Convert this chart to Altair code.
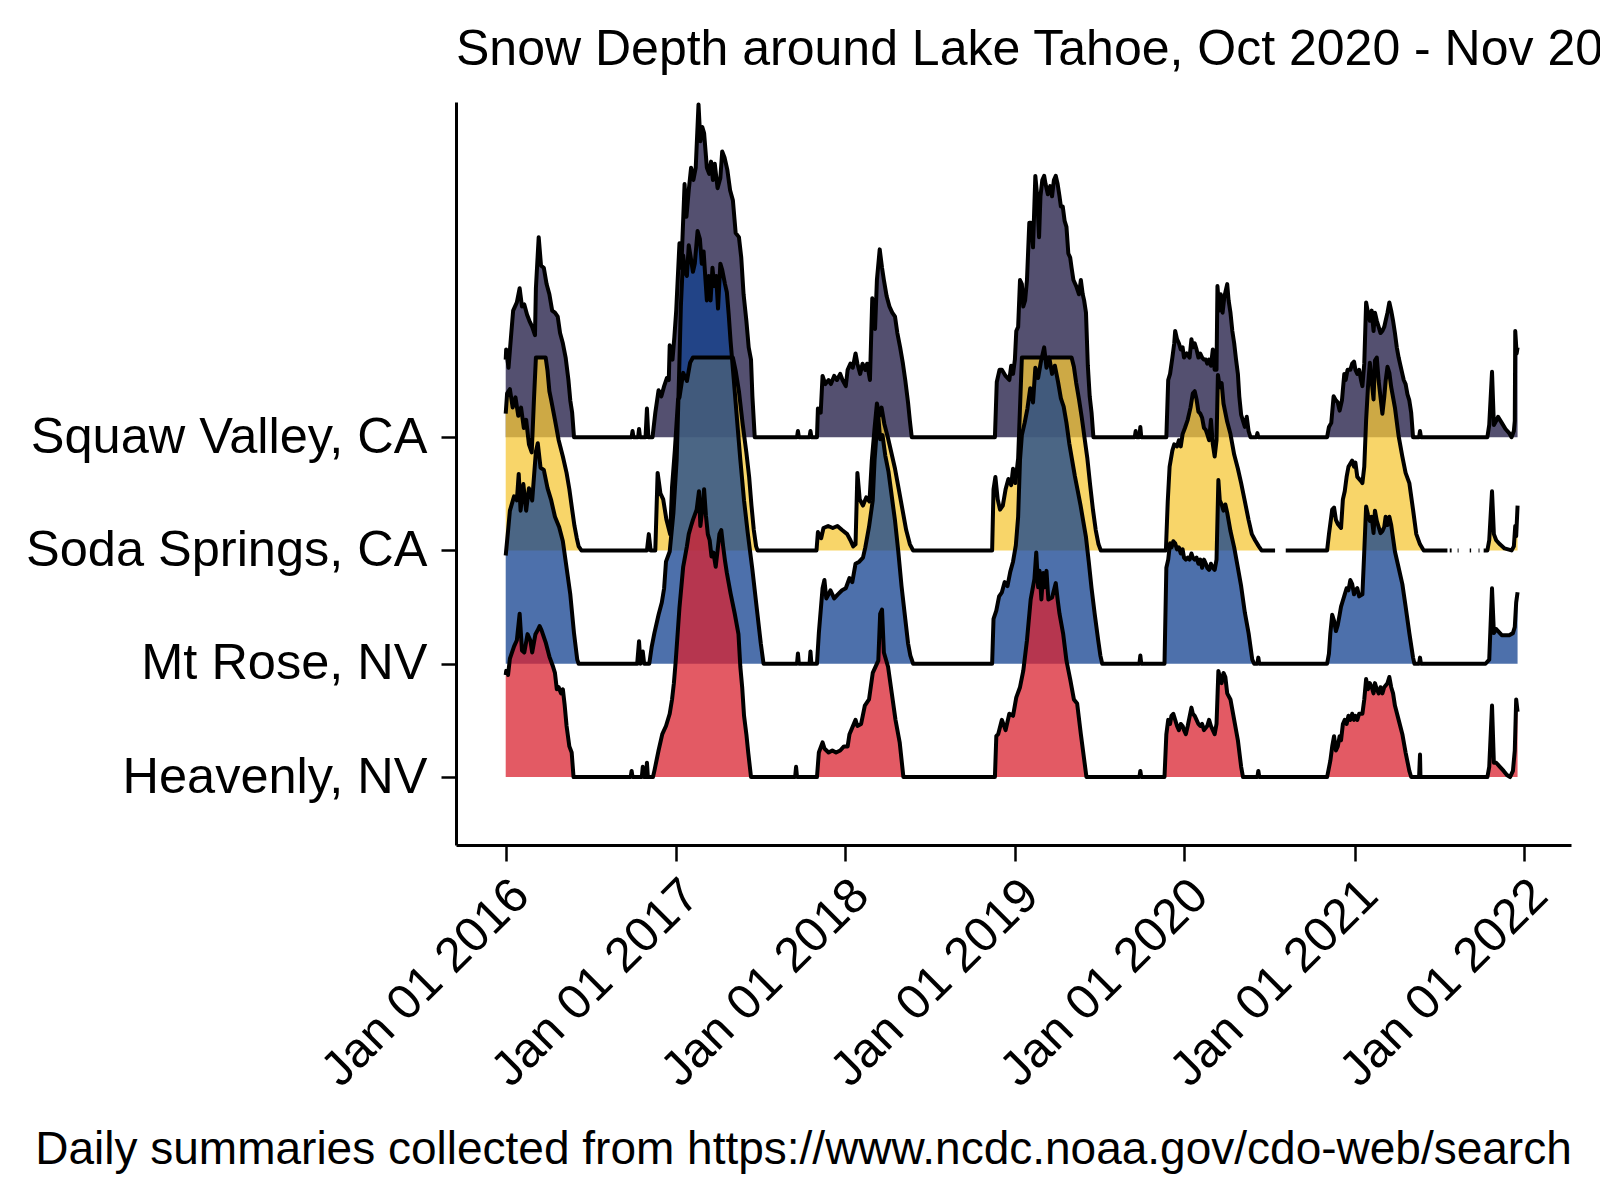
import altair as alt
import pandas as pd

FONT = "Liberation Sans"
TITLE = "Snow Depth around Lake Tahoe, Oct 2020 - Nov 2021"
FOOTER = "Daily summaries collected from https://www.ncdc.noaa.gov/cdo-web/search"

STATIONS = ["Squaw Valley, CA", "Soda Springs, CA", "Mt Rose, NV", "Heavenly, NV"]
OFFSETS = [166.5, 111.0, 55.5, 0.0]          # ridge baselines (inches)
COLORS = ["#1B1640", "#F6C737", "#12408F", "#DA2330"]
TICK_YEARS = [2016, 2017, 2018, 2019, 2020, 2021, 2022]

# snow depth (inches); None marks missing records
SQUAW = [
    ("2016-01-01", 38), ("2016-01-02", 43), ("2016-01-07", 34), ("2016-01-13", 51), ("2016-01-17", 62),
    ("2016-01-25", 66), ("2016-01-31", 73), ("2016-02-05", 64), ("2016-02-10", 65), ("2016-02-16", 60),
    ("2016-02-21", 57), ("2016-02-27", 54), ("2016-03-04", 50), ("2016-03-06", 73), ("2016-03-12", 98),
    ("2016-03-17", 84), ("2016-03-23", 83), ("2016-03-29", 75), ("2016-04-04", 70), ("2016-04-10", 62),
    ("2016-04-16", 61), ("2016-04-22", 59), ("2016-04-27", 51), ("2016-05-03", 46), ("2016-05-09", 39),
    ("2016-05-15", 28), ("2016-05-19", 18), ("2016-05-23", 12), ("2016-05-27", 0),
    ("2016-09-28", 0), ("2016-09-30", 3), ("2016-10-02", 0), ("2016-10-12", 0), ("2016-10-14", 4),
    ("2016-10-16", 0), ("2016-10-28", 0), ("2016-10-31", 14), ("2016-11-03", 0), ("2016-11-12", 0),
    ("2016-11-18", 12), ("2016-11-25", 23), ("2016-12-01", 20), ("2016-12-07", 25), ("2016-12-13", 29),
    ("2016-12-17", 28), ("2016-12-19", 45), ("2016-12-25", 38), ("2016-12-29", 49), ("2017-01-02", 62),
    ("2017-01-09", 95), ("2017-01-13", 83), ("2017-01-20", 124), ("2017-01-24", 108), ("2017-01-29", 121),
    ("2017-02-03", 132), ("2017-02-08", 126), ("2017-02-13", 132), ("2017-02-19", 163), ("2017-02-23", 145),
    ("2017-02-27", 152), ("2017-03-03", 149), ("2017-03-09", 132), ("2017-03-14", 129), ("2017-03-18", 135),
    ("2017-03-22", 126), ("2017-03-26", 134), ("2017-04-01", 122), ("2017-04-07", 127), ("2017-04-11", 140),
    ("2017-04-16", 137), ("2017-04-22", 131), ("2017-04-28", 121), ("2017-05-04", 116), ("2017-05-10", 100),
    ("2017-05-17", 98), ("2017-05-22", 88), ("2017-05-27", 70), ("2017-06-02", 57), ("2017-06-07", 44),
    ("2017-06-12", 38), ("2017-06-15", 20), ("2017-06-20", 0),
    ("2017-09-19", 0), ("2017-09-21", 3), ("2017-09-23", 0), ("2017-10-16", 0), ("2017-10-18", 3),
    ("2017-10-20", 0), ("2017-11-01", 0),
    ("2017-11-03", 14), ("2017-11-09", 12), ("2017-11-13", 30), ("2017-11-19", 26), ("2017-11-26", 28),
    ("2017-12-01", 26), ("2017-12-08", 30), ("2017-12-14", 28), ("2017-12-21", 31), ("2017-12-26", 28),
    ("2018-01-02", 25), ("2018-01-06", 33), ("2018-01-12", 36), ("2018-01-17", 34), ("2018-01-23", 41),
    ("2018-01-27", 36), ("2018-02-02", 31), ("2018-02-07", 36), ("2018-02-13", 33), ("2018-02-17", 36),
    ("2018-02-23", 28), ("2018-02-28", 68), ("2018-03-06", 53), ("2018-03-10", 77), ("2018-03-16", 92),
    ("2018-03-21", 83), ("2018-03-25", 77), ("2018-03-31", 69), ("2018-04-06", 64), ("2018-04-12", 61),
    ("2018-04-18", 59), ("2018-04-23", 51), ("2018-04-29", 44), ("2018-05-05", 36), ("2018-05-10", 28),
    ("2018-05-16", 17), ("2018-05-20", 8), ("2018-05-24", 0),
    ("2018-11-19", 0), ("2018-11-23", 27), ("2018-11-29", 33), ("2018-12-04", 33), ("2018-12-12", 30),
    ("2018-12-20", 28), ("2018-12-24", 35), ("2018-12-28", 31), ("2019-01-01", 38), ("2019-01-04", 52),
    ("2019-01-08", 54), ("2019-01-12", 77), ("2019-01-16", 75), ("2019-01-19", 64), ("2019-01-23", 67),
    ("2019-01-27", 77), ("2019-02-01", 105), ("2019-02-05", 105), ("2019-02-09", 93), ("2019-02-14", 128),
    ("2019-02-18", 118), ("2019-02-22", 98), ("2019-02-25", 118), ("2019-03-01", 126), ("2019-03-05", 128),
    ("2019-03-08", 124), ("2019-03-13", 119), ("2019-03-18", 123), ("2019-03-22", 118), ("2019-03-26", 126),
    ("2019-03-30", 128), ("2019-04-03", 124), ("2019-04-07", 118), ("2019-04-10", 113), ("2019-04-14", 113),
    ("2019-04-18", 106), ("2019-04-22", 103), ("2019-04-26", 90), ("2019-04-30", 88), ("2019-05-03", 83),
    ("2019-05-07", 77), ("2019-05-13", 74), ("2019-05-19", 70), ("2019-05-23", 77), ("2019-05-27", 70),
    ("2019-05-30", 67), ("2019-06-03", 61), ("2019-06-07", 35), ("2019-06-11", 20), ("2019-06-15", 12),
    ("2019-06-19", 0),
    ("2019-09-16", 0), ("2019-09-18", 3), ("2019-09-20", 0), ("2019-09-26", 0), ("2019-09-28", 5),
    ("2019-09-30", 0), ("2019-11-23", 0),
    ("2019-11-27", 28), ("2019-12-01", 31), ("2019-12-06", 39), ("2019-12-10", 46), ("2019-12-12", 52),
    ("2019-12-16", 48), ("2019-12-20", 46), ("2019-12-24", 43), ("2019-12-28", 44), ("2019-12-31", 39),
    ("2020-01-06", 41), ("2020-01-12", 39), ("2020-01-16", 48), ("2020-01-19", 44), ("2020-01-23", 46),
    ("2020-01-27", 43), ("2020-01-31", 39), ("2020-02-04", 41), ("2020-02-08", 39), ("2020-02-12", 38),
    ("2020-02-16", 38), ("2020-02-19", 36), ("2020-02-23", 38), ("2020-02-27", 35), ("2020-03-02", 43),
    ("2020-03-06", 33), ("2020-03-10", 33), ("2020-03-12", 74), ("2020-03-16", 62), ("2020-03-19", 70),
    ("2020-03-23", 61), ("2020-03-27", 69), ("2020-04-02", 75), ("2020-04-05", 67), ("2020-04-09", 61),
    ("2020-04-13", 52), ("2020-04-17", 46), ("2020-04-21", 38), ("2020-04-25", 31), ("2020-04-28", 20),
    ("2020-05-02", 11), ("2020-05-06", 8), ("2020-05-10", 5), ("2020-05-14", 10), ("2020-05-18", 3),
    ("2020-05-22", 0), ("2020-06-04", 0), ("2020-06-06", 2), ("2020-06-08", 0), ("2020-11-03", 0),
    ("2020-11-07", 5), ("2020-11-12", 7), ("2020-11-17", 20), ("2020-11-22", 18), ("2020-11-26", 17),
    ("2020-11-30", 13), ("2020-12-05", 18), ("2020-12-10", 31), ("2020-12-13", 28), ("2020-12-17", 33),
    ("2020-12-23", 33), ("2020-12-27", 36), ("2020-12-31", 37), ("2021-01-03", 33), ("2021-01-07", 31),
    ("2021-01-11", 33), ("2021-01-15", 28), ("2021-01-18", 25), ("2021-01-22", 36), ("2021-01-26", 66),
    ("2021-01-30", 61), ("2021-02-03", 57), ("2021-02-07", 62), ("2021-02-11", 52), ("2021-02-14", 61),
    ("2021-02-18", 57), ("2021-02-22", 54), ("2021-02-26", 51), ("2021-03-02", 52), ("2021-03-06", 54),
    ("2021-03-09", 57), ("2021-03-13", 61), ("2021-03-17", 66), ("2021-03-21", 62), ("2021-03-25", 57),
    ("2021-03-29", 51), ("2021-04-02", 44), ("2021-04-06", 39), ("2021-04-10", 35), ("2021-04-14", 31),
    ("2021-04-17", 28), ("2021-04-21", 26), ("2021-04-25", 21), ("2021-04-29", 18), ("2021-05-03", 12),
    ("2021-05-07", 0), ("2021-05-20", 0), ("2021-05-22", 3), ("2021-05-24", 0), ("2021-10-14", 0),
    ("2021-10-18", 6), ("2021-10-24", 32), ("2021-10-28", 6), ("2021-11-02", 8), ("2021-11-06", 10),
    ("2021-11-14", 7), ("2021-11-22", 4), ("2021-11-30", 2), ("2021-12-05", 0), ("2021-12-10", 3),
    ("2021-12-12", 8), ("2021-12-13", 52), ("2021-12-16", 41), ("2021-12-18", 44),
]

SODA = [
    ("2016-01-01", 67), ("2016-01-04", 77), ("2016-01-10", 79), ("2016-01-16", 70), ("2016-01-22", 75),
    ("2016-01-28", 66), ("2016-02-03", 70), ("2016-02-09", 60), ("2016-02-14", 64), ("2016-02-20", 52),
    ("2016-02-26", 48), ("2016-03-02", 75), ("2016-03-06", 94.5), ("2016-03-27", 94.5), ("2016-03-31", 88),
    ("2016-04-04", 78), ("2016-04-08", 73.5), ("2016-04-16", 64), ("2016-04-24", 54), ("2016-05-03", 46),
    ("2016-05-11", 38), ("2016-05-17", 30), ("2016-05-23", 20), ("2016-05-28", 12), ("2016-06-02", 6),
    ("2016-06-06", 2), ("2016-06-12", 0),
    ("2016-10-31", 0), ("2016-11-04", 8), ("2016-11-08", 0), ("2016-11-18", 0), ("2016-11-23", 38),
    ("2016-11-29", 28), ("2016-12-05", 25), ("2016-12-12", 15), ("2016-12-20", 8), ("2016-12-24", 31),
    ("2016-12-30", 49), ("2017-01-06", 74), ("2017-01-09", 75), ("2017-01-17", 87), ("2017-01-25", 83),
    ("2017-02-01", 92), ("2017-02-07", 94.5), ("2017-05-04", 94.5), ("2017-05-10", 88), ("2017-05-17", 78),
    ("2017-05-25", 62), ("2017-06-02", 48), ("2017-06-08", 36), ("2017-06-13", 22), ("2017-06-18", 10),
    ("2017-06-23", 2), ("2017-06-26", 0),
    ("2017-10-31", 0), ("2017-11-03", 9), ("2017-11-10", 6), ("2017-11-15", 11), ("2017-11-25", 12),
    ("2017-12-05", 11), ("2017-12-15", 12), ("2017-12-25", 10), ("2018-01-05", 8), ("2018-01-12", 5),
    ("2018-01-18", 2), ("2018-01-23", 3), ("2018-01-27", 38), ("2018-02-01", 25), ("2018-02-08", 22),
    ("2018-02-15", 26), ("2018-02-22", 24), ("2018-02-27", 44), ("2018-03-05", 60), ("2018-03-10", 72),
    ("2018-03-15", 66), ("2018-03-20", 70), ("2018-03-26", 62), ("2018-04-03", 55), ("2018-04-10", 48),
    ("2018-04-18", 40), ("2018-04-26", 30), ("2018-05-04", 20), ("2018-05-12", 10), ("2018-05-20", 3),
    ("2018-05-27", 0),
    ("2018-11-13", 0), ("2018-11-16", 30), ("2018-11-20", 36), ("2018-11-25", 25), ("2018-11-30", 20),
    ("2018-12-06", 22), ("2018-12-12", 30), ("2018-12-18", 35), ("2018-12-24", 32), ("2018-12-28", 40),
    ("2019-01-02", 33), ("2019-01-08", 45), ("2019-01-12", 70), ("2019-01-16", 94.5), ("2019-05-03", 94.5),
    ("2019-05-08", 90), ("2019-05-13", 82), ("2019-05-19", 74), ("2019-05-25", 65), ("2019-05-31", 55),
    ("2019-06-06", 45), ("2019-06-12", 32), ("2019-06-18", 20), ("2019-06-24", 10), ("2019-06-30", 3),
    ("2019-07-05", 0),
    ("2019-11-22", 0), ("2019-11-26", 24), ("2019-11-30", 41), ("2019-12-06", 49), ("2019-12-10", 52),
    ("2019-12-16", 51), ("2019-12-20", 54), ("2019-12-24", 51), ("2019-12-28", 57), ("2020-01-02", 60),
    ("2020-01-08", 64), ("2020-01-14", 70), ("2020-01-19", 77), ("2020-01-23", 78), ("2020-01-27", 74),
    ("2020-01-31", 68), ("2020-02-04", 67), ("2020-02-08", 65), ("2020-02-12", 60), ("2020-02-16", 59),
    ("2020-02-19", 57), ("2020-02-23", 54), ("2020-02-27", 64), ("2020-03-02", 52), ("2020-03-06", 46),
    ("2020-03-10", 54), ("2020-03-13", 86), ("2020-03-17", 80), ("2020-03-21", 82), ("2020-03-25", 72),
    ("2020-04-02", 63), ("2020-04-09", 57), ("2020-04-17", 47), ("2020-04-25", 40), ("2020-05-02", 33),
    ("2020-05-10", 24), ("2020-05-18", 15), ("2020-05-25", 8), ("2020-06-01", 5), ("2020-06-09", 2),
    ("2020-06-15", 0), ("2020-07-14", 0), ("2020-07-15", None), ("2020-08-06", 0),
    ("2020-11-03", 0), ("2020-11-07", 8), ("2020-11-14", 20), ("2020-11-18", 21), ("2020-11-22", 15),
    ("2020-11-26", 13), ("2020-12-03", 11), ("2020-12-07", 25), ("2020-12-11", 29), ("2020-12-15", 36),
    ("2020-12-19", 41), ("2020-12-27", 44), ("2020-12-31", 41), ("2021-01-03", 43), ("2021-01-07", 36),
    ("2021-01-15", 34), ("2021-01-18", 33), ("2021-01-22", 41), ("2021-01-26", 64), ("2021-01-30", 80),
    ("2021-02-03", 92), ("2021-02-07", 83), ("2021-02-11", 74), ("2021-02-14", 93), ("2021-02-18", 94.5),
    ("2021-02-22", 83), ("2021-02-26", 75), ("2021-03-02", 67), ("2021-03-06", 75), ("2021-03-09", 83),
    ("2021-03-13", 90), ("2021-03-17", 87), ("2021-03-21", 80), ("2021-03-29", 70), ("2021-04-06", 56),
    ("2021-04-14", 46), ("2021-04-21", 38), ("2021-04-29", 33), ("2021-05-07", 20), ("2021-05-14", 8),
    ("2021-05-22", 3), ("2021-05-30", 0),
    ("2021-07-20", 0), ("2021-07-21", None), ("2021-07-25", 0), ("2021-07-29", 0), ("2021-07-30", None),
    ("2021-08-11", 0), ("2021-08-13", 0), ("2021-08-14", None), ("2021-09-06", 0), ("2021-09-09", 0),
    ("2021-09-10", None), ("2021-09-25", 0), ("2021-09-27", 0), ("2021-09-28", None), ("2021-10-06", 0),
    ("2021-10-14", 0), ("2021-10-18", 5), ("2021-10-24", 29), ("2021-10-28", 8), ("2021-11-02", 5),
    ("2021-11-10", 3), ("2021-11-20", 1), ("2021-12-05", 0), ("2021-12-10", 2), ("2021-12-13", 12),
    ("2021-12-15", 7), ("2021-12-18", 22),
]

MTROSE = [
    ("2016-01-01", 53), ("2016-01-06", 65), ("2016-01-10", 75), ("2016-01-19", 82), ("2016-01-25", 80),
    ("2016-01-29", 93), ("2016-02-02", 75), ("2016-02-08", 88), ("2016-02-14", 75), ("2016-02-20", 86),
    ("2016-02-27", 80), ("2016-03-06", 104), ("2016-03-10", 108), ("2016-03-16", 96), ("2016-03-23", 95),
    ("2016-03-31", 86), ("2016-04-08", 80), ("2016-04-16", 72), ("2016-04-25", 67), ("2016-05-03", 60),
    ("2016-05-11", 47), ("2016-05-19", 34), ("2016-05-27", 15), ("2016-06-03", 2), ("2016-06-06", 0),
    ("2016-10-10", 0), ("2016-10-14", 11), ("2016-10-17", 0), ("2016-10-22", 6), ("2016-10-25", 0),
    ("2016-11-05", 0), ("2016-11-10", 8), ("2016-11-16", 15), ("2016-11-25", 24), ("2016-12-02", 30),
    ("2016-12-07", 37), ("2016-12-11", 50), ("2016-12-19", 55), ("2016-12-27", 74), ("2017-01-03", 100),
    ("2017-01-08", 140), ("2017-01-12", 175), ("2017-01-17", 200), ("2017-01-21", 192), ("2017-01-25", 190),
    ("2017-01-29", 205), ("2017-02-03", 198), ("2017-02-07", 192), ("2017-02-11", 196), ("2017-02-17", 212),
    ("2017-02-22", 208), ("2017-02-26", 196), ("2017-03-02", 202), ("2017-03-06", 188), ("2017-03-09", 178),
    ("2017-03-13", 190), ("2017-03-17", 178), ("2017-03-21", 194), ("2017-03-25", 185), ("2017-03-29", 190),
    ("2017-04-02", 174), ("2017-04-07", 196), ("2017-04-11", 193), ("2017-04-17", 186), ("2017-04-21", 182),
    ("2017-04-25", 171), ("2017-04-29", 158), ("2017-05-06", 139), ("2017-05-12", 122), ("2017-05-20", 100),
    ("2017-05-28", 80), ("2017-06-05", 64), ("2017-06-15", 46), ("2017-06-25", 26), ("2017-07-03", 10),
    ("2017-07-09", 0),
    ("2017-09-19", 0), ("2017-09-21", 5), ("2017-09-23", 0), ("2017-10-16", 0), ("2017-10-18", 6),
    ("2017-10-20", 0), ("2017-11-01", 0), ("2017-11-05", 15), ("2017-11-13", 37), ("2017-11-17", 41),
    ("2017-11-21", 32), ("2017-11-26", 34), ("2017-11-30", 36), ("2017-12-08", 32), ("2017-12-16", 34),
    ("2017-12-25", 36), ("2018-01-02", 37), ("2018-01-10", 42), ("2018-01-16", 40), ("2018-01-23", 49),
    ("2018-01-31", 50), ("2018-02-08", 52), ("2018-02-13", 57), ("2018-02-21", 67), ("2018-03-01", 80),
    ("2018-03-05", 100), ("2018-03-09", 112), ("2018-03-13", 121), ("2018-03-17", 110), ("2018-03-22", 112),
    ("2018-03-28", 102), ("2018-04-04", 94), ("2018-04-11", 82), ("2018-04-18", 70), ("2018-04-25", 55),
    ("2018-05-02", 38), ("2018-05-09", 24), ("2018-05-16", 10), ("2018-05-21", 4), ("2018-05-27", 0),
    ("2018-11-13", 0), ("2018-11-16", 22), ("2018-11-22", 26), ("2018-11-28", 33), ("2018-12-04", 35),
    ("2018-12-10", 40), ("2018-12-16", 38), ("2018-12-22", 45), ("2018-12-28", 50), ("2019-01-03", 58),
    ("2019-01-08", 72), ("2019-01-12", 100), ("2019-01-16", 112), ("2019-01-22", 118), ("2019-01-28", 125),
    ("2019-02-03", 135), ("2019-02-09", 128), ("2019-02-14", 145), ("2019-02-20", 140), ("2019-02-26", 148),
    ("2019-03-05", 155), ("2019-03-10", 145), ("2019-03-16", 150), ("2019-03-22", 142), ("2019-03-28", 146),
    ("2019-04-04", 138), ("2019-04-10", 130), ("2019-04-16", 126), ("2019-04-22", 118), ("2019-04-28", 108),
    ("2019-05-04", 100), ("2019-05-10", 92), ("2019-05-16", 85), ("2019-05-22", 78), ("2019-05-28", 70),
    ("2019-06-03", 62), ("2019-06-09", 50), ("2019-06-15", 37), ("2019-06-22", 24), ("2019-06-29", 12),
    ("2019-07-04", 4), ("2019-07-08", 0),
    ("2019-09-26", 0), ("2019-09-28", 4), ("2019-09-30", 0), ("2019-11-19", 0),
    ("2019-11-23", 47), ("2019-11-27", 51), ("2019-12-01", 59), ("2019-12-04", 57), ("2019-12-08", 60),
    ("2019-12-12", 59), ("2019-12-16", 56), ("2019-12-20", 57), ("2019-12-24", 54), ("2019-12-28", 56),
    ("2019-12-31", 52), ("2020-01-04", 51), ("2020-01-08", 52), ("2020-01-12", 51), ("2020-01-16", 54),
    ("2020-01-19", 52), ("2020-01-23", 51), ("2020-01-27", 52), ("2020-01-31", 49), ("2020-02-04", 51),
    ("2020-02-08", 47), ("2020-02-12", 51), ("2020-02-16", 49), ("2020-02-19", 47), ("2020-02-23", 46),
    ("2020-02-27", 49), ("2020-03-02", 47), ("2020-03-06", 46), ("2020-03-10", 51), ("2020-03-14", 90),
    ("2020-03-17", 80), ("2020-03-21", 78), ("2020-03-25", 75), ("2020-03-29", 78), ("2020-04-02", 74),
    ("2020-04-09", 65), ("2020-04-17", 57), ("2020-04-25", 47), ("2020-05-02", 38), ("2020-05-10", 25),
    ("2020-05-18", 15), ("2020-05-26", 2), ("2020-05-30", 0),
    ("2020-06-06", 0), ("2020-06-08", 3), ("2020-06-10", 0), ("2020-11-03", 0),
    ("2020-11-07", 5), ("2020-11-10", 15), ("2020-11-14", 24), ("2020-11-18", 21), ("2020-11-22", 16),
    ("2020-11-26", 19), ("2020-11-30", 24), ("2020-12-03", 28), ("2020-12-07", 31), ("2020-12-11", 34),
    ("2020-12-15", 37), ("2020-12-19", 36), ("2020-12-23", 41), ("2020-12-27", 39), ("2020-12-31", 34),
    ("2021-01-03", 36), ("2021-01-07", 37), ("2021-01-11", 33), ("2021-01-18", 34), ("2021-01-22", 55),
    ("2021-01-26", 77), ("2021-01-30", 73), ("2021-02-03", 70), ("2021-02-07", 72), ("2021-02-11", 64),
    ("2021-02-14", 75), ("2021-02-18", 70), ("2021-02-22", 67), ("2021-02-26", 64), ("2021-03-02", 65),
    ("2021-03-06", 67), ("2021-03-09", 72), ("2021-03-13", 68), ("2021-03-17", 72), ("2021-03-21", 68),
    ("2021-03-29", 55), ("2021-04-06", 47), ("2021-04-14", 39), ("2021-04-21", 28), ("2021-04-29", 15),
    ("2021-05-07", 3), ("2021-05-10", 0),
    ("2021-05-20", 0), ("2021-05-22", 3), ("2021-05-24", 0), ("2021-10-10", 0),
    ("2021-10-18", 2), ("2021-10-24", 37), ("2021-10-28", 15), ("2021-11-02", 17), ("2021-11-06", 16),
    ("2021-11-14", 14), ("2021-11-22", 14), ("2021-11-30", 14), ("2021-12-08", 15), ("2021-12-12", 18),
    ("2021-12-15", 30), ("2021-12-18", 35),
]

HEAVENLY = [
    ("2016-01-01", 50), ("2016-01-02", 52), ("2016-01-06", 50), ("2016-01-10", 58), ("2016-01-19", 64),
    ("2016-01-25", 67), ("2016-01-31", 80), ("2016-02-05", 62), ("2016-02-10", 61), ("2016-02-17", 70),
    ("2016-02-23", 67), ("2016-02-27", 61), ("2016-03-05", 70), ("2016-03-10", 72), ("2016-03-14", 74),
    ("2016-03-18", 72), ("2016-03-27", 66), ("2016-04-04", 59), ("2016-04-12", 54), ("2016-04-16", 51),
    ("2016-04-20", 43), ("2016-04-24", 44), ("2016-04-29", 41), ("2016-05-03", 43), ("2016-05-07", 35),
    ("2016-05-11", 25), ("2016-05-17", 15), ("2016-05-22", 12), ("2016-05-26", 0),
    ("2016-09-26", 0), ("2016-09-28", 3), ("2016-09-30", 0), ("2016-10-20", 0), ("2016-10-22", 5),
    ("2016-10-24", 0), ("2016-10-29", 0), ("2016-10-31", 7), ("2016-11-02", 0), ("2016-11-13", 0),
    ("2016-11-16", 3), ("2016-11-25", 13), ("2016-12-03", 21), ("2016-12-11", 25), ("2016-12-19", 31),
    ("2016-12-24", 38), ("2016-12-28", 46), ("2017-01-01", 57), ("2017-01-05", 70), ("2017-01-09", 83),
    ("2017-01-13", 93), ("2017-01-17", 103), ("2017-01-21", 108), ("2017-01-25", 113), ("2017-01-29", 119),
    ("2017-02-03", 123), ("2017-02-07", 126), ("2017-02-15", 131), ("2017-02-20", 140), ("2017-02-23", 123),
    ("2017-02-27", 131), ("2017-03-03", 141), ("2017-03-07", 128), ("2017-03-11", 119), ("2017-03-15", 116),
    ("2017-03-19", 108), ("2017-03-23", 110), ("2017-03-28", 103), ("2017-04-01", 111), ("2017-04-05", 119),
    ("2017-04-09", 121), ("2017-04-13", 113), ("2017-04-17", 106), ("2017-04-21", 100), ("2017-04-29", 90),
    ("2017-05-08", 80), ("2017-05-16", 70), ("2017-05-20", 54), ("2017-05-24", 44), ("2017-05-28", 30),
    ("2017-06-02", 21), ("2017-06-06", 12), ("2017-06-12", 0),
    ("2017-09-15", 0), ("2017-09-17", 5), ("2017-09-19", 0), ("2017-11-01", 0), ("2017-11-05", 12),
    ("2017-11-13", 17), ("2017-11-17", 14), ("2017-11-26", 12), ("2017-12-04", 13), ("2017-12-12", 12),
    ("2017-12-21", 13), ("2017-12-29", 15), ("2018-01-06", 15), ("2018-01-10", 21), ("2018-01-23", 28),
    ("2018-01-27", 25), ("2018-02-04", 26), ("2018-02-12", 35), ("2018-02-21", 38), ("2018-03-01", 51),
    ("2018-03-13", 57), ("2018-03-17", 80), ("2018-03-21", 82), ("2018-03-25", 61), ("2018-04-03", 54),
    ("2018-04-11", 41), ("2018-04-19", 28), ("2018-04-28", 17), ("2018-05-06", 0),
    ("2018-11-19", 0), ("2018-11-22", 20), ("2018-11-26", 21), ("2018-12-04", 28), ("2018-12-12", 23),
    ("2018-12-20", 31), ("2018-12-28", 30), ("2019-01-04", 39), ("2019-01-12", 44), ("2019-01-19", 52),
    ("2019-01-27", 67), ("2019-02-04", 87), ("2019-02-12", 97), ("2019-02-16", 110), ("2019-02-20", 93),
    ("2019-02-23", 101), ("2019-02-27", 87), ("2019-03-03", 100), ("2019-03-06", 93), ("2019-03-10", 101),
    ("2019-03-14", 87), ("2019-03-22", 88), ("2019-03-30", 95), ("2019-04-03", 87), ("2019-04-07", 80),
    ("2019-04-15", 70), ("2019-04-22", 57), ("2019-04-30", 48), ("2019-05-08", 38), ("2019-05-15", 36),
    ("2019-05-23", 21), ("2019-05-31", 7), ("2019-06-04", 0),
    ("2019-09-26", 0), ("2019-09-28", 3), ("2019-09-30", 0), ("2019-11-19", 0),
    ("2019-11-23", 21), ("2019-11-27", 28), ("2019-12-01", 26), ("2019-12-04", 30), ("2019-12-08", 31),
    ("2019-12-12", 28), ("2019-12-16", 25), ("2019-12-20", 23), ("2019-12-24", 26), ("2019-12-28", 25),
    ("2019-12-31", 23), ("2020-01-04", 21), ("2020-01-08", 25), ("2020-01-16", 34), ("2020-01-19", 31),
    ("2020-01-23", 30), ("2020-01-27", 28), ("2020-01-31", 26), ("2020-02-04", 25), ("2020-02-08", 26),
    ("2020-02-12", 23), ("2020-02-19", 25), ("2020-02-23", 28), ("2020-02-27", 25), ("2020-03-02", 23),
    ("2020-03-06", 21), ("2020-03-10", 26), ("2020-03-14", 52), ("2020-03-17", 49), ("2020-03-21", 46),
    ("2020-03-25", 51), ("2020-03-29", 49), ("2020-04-02", 41), ("2020-04-09", 38), ("2020-04-17", 28),
    ("2020-04-25", 18), ("2020-05-02", 5), ("2020-05-06", 0),
    ("2020-06-06", 0), ("2020-06-08", 3), ("2020-06-10", 0), ("2020-11-03", 0),
    ("2020-11-10", 8), ("2020-11-14", 15), ("2020-11-18", 20), ("2020-11-22", 13), ("2020-11-26", 15),
    ("2020-11-30", 20), ("2020-12-03", 18), ("2020-12-07", 26), ("2020-12-11", 28), ("2020-12-15", 26),
    ("2020-12-19", 30), ("2020-12-23", 28), ("2020-12-27", 31), ("2020-12-31", 28), ("2021-01-03", 30),
    ("2021-01-07", 28), ("2021-01-11", 31), ("2021-01-18", 31), ("2021-01-22", 38), ("2021-01-26", 48),
    ("2021-01-30", 43), ("2021-02-03", 46), ("2021-02-07", 44), ("2021-02-11", 41), ("2021-02-14", 46),
    ("2021-02-18", 43), ("2021-02-22", 41), ("2021-02-26", 44), ("2021-03-02", 41), ("2021-03-06", 44),
    ("2021-03-13", 46), ("2021-03-17", 49), ("2021-03-21", 44), ("2021-03-25", 41), ("2021-03-29", 35),
    ("2021-04-06", 28), ("2021-04-14", 21), ("2021-04-21", 12), ("2021-04-29", 3), ("2021-05-03", 0),
    ("2021-05-20", 0), ("2021-05-22", 11), ("2021-05-23", 0), ("2021-10-14", 0),
    ("2021-10-18", 5), ("2021-10-24", 35), ("2021-10-28", 7), ("2021-11-02", 7), ("2021-11-10", 5),
    ("2021-11-18", 3), ("2021-11-25", 1), ("2021-12-02", 0), ("2021-12-08", 3), ("2021-12-12", 13),
    ("2021-12-15", 38), ("2021-12-18", 32),
]

SERIES = [SQUAW, SODA, MTROSE, HEAVENLY]

rows = []
for name, base, pts in zip(STATIONS, OFFSETS, SERIES):
    seg = 0
    for d, v in pts:
        if v is None:
            seg += 1
            continue
        rows.append({"station": name, "date": d, "depth": v, "base": base,
                     "top": base + v, "seg": f"{name}-{seg}"})
df = pd.DataFrame(rows)

label_expr = " : ".join(f"datum.value == {o} ? '{s}'" for s, o in zip(STATIONS, OFFSETS)) + " : ''"

x_enc = alt.X(
    "date:T",
    scale=alt.Scale(type="utc", domain=[alt.DateTime(year=2015, month=9, date=16, utc=True),
                                         alt.DateTime(year=2022, month=4, date=12, utc=True)]),
    axis=alt.Axis(
        values=[alt.DateTime(year=yr, month=1, date=1, utc=True) for yr in TICK_YEARS],
        format="%b %d %Y", labelAngle=315, labelAlign="right", labelBaseline="middle",
        labelFontSize=49, labelFont=FONT, labelColor="black", labelPadding=26, labelLimit=0,
        labelOffset=15, labelFlush=False, labelOverlap=False, labelBound=False,
        tickSize=16, tickWidth=2.5, tickColor="black",
        domainColor="black", domainWidth=3, grid=False,
        title=FOOTER, titleFont=FONT, titleFontSize=46, titleFontWeight="normal",
        titleColor="black", titleX=347, titleY=318, titleAlign="center", titleLimit=0,
        titleBaseline="alphabetic", titleAnchor="start",
    ),
)
y_enc = alt.Y(
    "top:Q",
    scale=alt.Scale(domain=[-33.3, 330.7], nice=False, zero=False),
    axis=alt.Axis(
        values=OFFSETS, labelExpr=label_expr, labelFontSize=50.5, labelFont=FONT, labelLimit=0,
        labelColor="black", labelPadding=14, tickSize=15, tickWidth=2.5, tickColor="black",
        domainColor="black", domainWidth=3, grid=False, title=None,
    ),
)

base = alt.Chart(df)
areas = [
    base.transform_filter(alt.datum.station == name)
    .mark_area(color=col, opacity=0.75)
    .encode(x=x_enc, y=y_enc, y2="base:Q")
    for name, col in zip(STATIONS, COLORS)
]
lines = [
    base.transform_filter(alt.datum.station == name)
    .mark_line(color="black", strokeWidth=4, strokeJoin="round")
    .encode(x=x_enc, y=y_enc, detail="seg:N")
    for name in STATIONS
]

chart = alt.layer(*areas, *lines).properties(
    width=1115,
    height=743,
    background="white",
    autosize=alt.AutoSizeParams(type="none"),
    padding={"left": 456, "top": 102, "right": 29, "bottom": 355},
    title=alt.TitleParams(TITLE, anchor="start", frame="group", fontSize=50, font=FONT,
                          fontWeight="normal", color="black", offset=0, dy=13,
                          baseline="alphabetic", limit=0),
).configure_view(stroke=None)

chart.save("out.html", embed_options={"renderer": "svg", "actions": False})
